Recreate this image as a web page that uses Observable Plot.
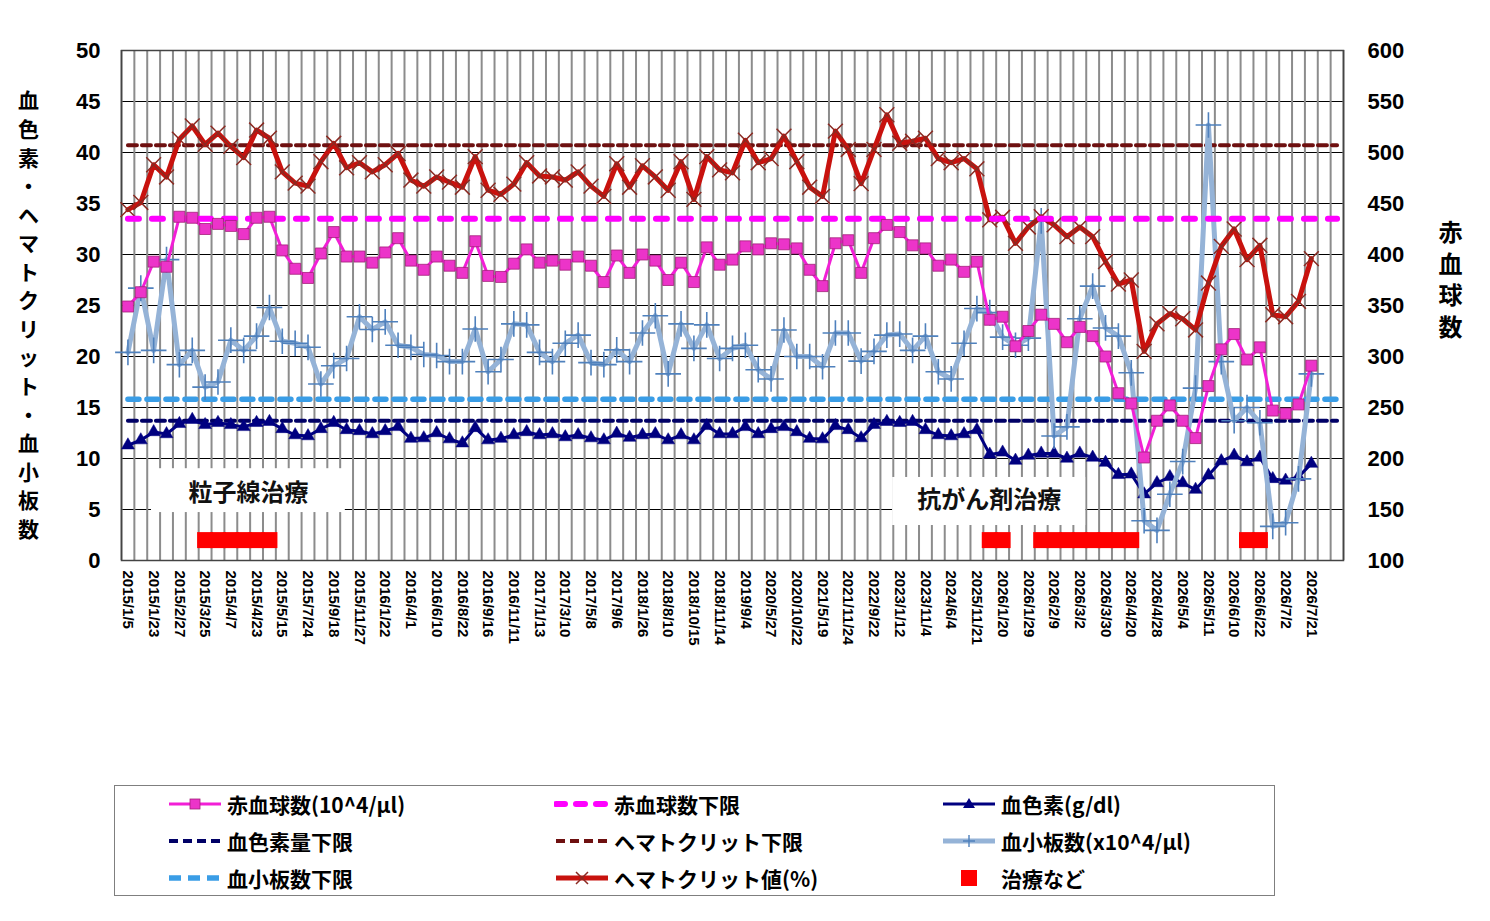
<!DOCTYPE html>
<html><head><meta charset="utf-8">
<script src="https://cdn.jsdelivr.net/npm/d3@7"></script>
<script src="https://cdn.jsdelivr.net/npm/@observablehq/plot@0.6"></script>
<style>
body{margin:0;background:#fff;width:1490px;height:921px;position:relative;overflow:hidden;}
#chart{position:absolute;left:0;top:0;}
#legend{position:absolute;left:114px;top:785px;width:1161px;height:111px;border:1.5px solid #7f7f7f;box-sizing:border-box;background:#fff;}
.item{position:absolute;display:flex;align-items:center;height:30px;font-family:"Noto Sans CJK JP","Noto Sans",sans-serif;font-weight:bold;font-size:21px;color:#000;white-space:nowrap;}
.item svg{margin-right:4px;}
</style></head><body>
<div id="chart"></div><div id="legend"></div>
<script>
// ---- categories (x tick labels shown every second category) ----
const xLabels = ["2015/1/5","2015/1/23","2015/2/27","2015/3/25","2015/4/7","2015/4/23","2015/5/15","2015/7/24","2015/9/18","2015/11/27","2016/1/22","2016/4/1","2016/6/10","2016/8/22","2016/9/16","2016/11/11","2017/1/13","2017/3/10","2017/5/8","2017/9/6","2018/1/26","2018/8/10","2018/10/15","2018/11/14","2019/9/4","2020/5/27","2020/10/22","2021/5/19","2021/11/24","2022/9/22","2023/1/12","2023/11/4","2024/6/4","2025/11/21","2026/1/20","2026/1/29","2026/2/9","2026/3/2","2026/3/30","2026/4/20","2026/4/28","2026/5/4","2026/5/11","2026/6/10","2026/6/22","2026/7/2","2026/7/21"];
const labelEvery = 2;
const nCategories = 95;

// ---- series (left axis unless noted) ----
const hct = [34.4,35.1,38.8,37.6,41.3,42.6,40.8,41.9,40.6,39.5,42.2,41.4,38.1,37.0,36.7,39.1,40.9,38.5,39.0,38.1,38.8,39.9,37.3,36.7,37.6,37.1,36.6,39.6,36.3,35.9,36.9,39.0,37.7,37.6,37.3,38.1,36.7,35.7,38.9,36.6,38.7,37.6,36.3,39.1,35.4,39.6,38.3,38.0,41.2,39.0,39.4,41.6,39.1,36.6,35.7,42.1,40.3,36.95,40.3,43.7,40.9,41.1,41.4,39.4,39.0,39.4,38.4,33.4,33.65,31.1,32.7,33.7,32.9,31.75,32.7,31.75,29.3,27.1,27.5,20.5,23.2,24.2,23.7,22.6,27.2,30.8,32.5,29.5,30.9,24.1,23.9,25.4,29.6];
// red blood cell count, right axis (10^4/μl)
const rbc = [349,363,393,388,437,436,425,430,428,420,436,437,404,386,377,401,422,398,398,392,402,416,394,385,398,389,382,413,379,378,391,405,392,394,390,398,389,373,399,382,400,394,375,392,373,407,390,395,408,405,411,410,406,385,369,411,414,382,416,429,422,409,406,389,395,383,393,336,339,310,325,341,332,314,329,320,300,264,254,201,237,252,237,220,271,307,322,297,309,247,244,253,291];
const plt = [20.4,26.7,20.6,29.5,19.2,20.6,17.0,17.5,21.6,20.6,22.0,24.8,21.5,21.3,20.9,17.3,19.1,19.8,23.9,22.65,23.4,21.1,20.9,20.2,20.1,19.5,19.5,22.7,18.5,19.7,23.2,23.1,20.4,19.5,21.3,22.1,19.4,19.2,20.65,19.5,22.3,24.0,18.3,23.2,20.8,23.1,19.8,20.8,21.1,18.7,17.8,22.6,20.0,20.0,19.0,22.3,22.3,19.55,20.5,22.1,22.2,20.6,22.0,18.5,17.8,21.3,24.7,24.3,21.9,21.1,21.8,33.3,12.2,13.1,23.7,26.9,22.8,22.0,18.4,3.9,2.95,6.5,9.7,16.9,42.7,19.5,13.7,15.0,13.5,3.35,3.7,8.0,18.3];
const hb = [11.3,11.8,12.6,12.4,13.4,13.8,13.3,13.5,13.3,13.1,13.5,13.6,12.9,12.3,12.2,12.9,13.5,12.8,12.7,12.4,12.7,13.1,11.95,12.0,12.5,11.9,11.5,13.0,11.8,11.95,12.3,12.6,12.3,12.4,12.1,12.3,12.0,11.8,12.45,12.05,12.3,12.4,11.8,12.3,11.8,13.2,12.4,12.4,13.1,12.4,12.9,13.1,12.6,11.95,11.9,13.2,12.8,12.0,13.3,13.6,13.5,13.6,12.8,12.3,12.2,12.4,12.8,10.4,10.6,9.8,10.3,10.5,10.5,10.0,10.5,10.1,9.6,8.4,8.45,6.5,7.6,8.2,7.6,6.95,8.35,9.75,10.3,9.65,10.1,8.0,7.85,8.2,9.5];
// treatments: category indices, plotted at a fixed level
const treatmentIdx = [6,7,8,9,10,11,67,68,71,72,73,74,75,76,77,78,87,88];
const treatmentLevel = 2;
// lower limits
const rbcLow = 435, hbLow = 13.7, hctLow = 40.7, pltLow = 15.8;

const leftTicks = d3.range(0, 51, 5);
const rightTicks = d3.range(100, 601, 50);
const toLeft = v => (v - 100) / 10;     // right axis -> left axis units

const annotations = [
  {text: "粒子線治療", x: 9.88, y: 6.57, x1: 2.33, x2: 17.4, y1: 4.7, y2: 9.0},
  {text: "抗がん剤治療", x: 67.46, y: 5.88, x1: 59.95, x2: 74.96, y1: 3.43, y2: 8.14}
];

const C = {
  rbc: "#f21fd6", rbcFill: "#ec34c9", rbcEdge: "#a3207a",
  hb: "#000080", hct: "#c8120e", hctMark: "#8a2a22",
  plt: "#95b3d7", pltMark: "#4f81bd",
  rbcLow: "#ff00ff", hbLow: "#000066", hctLow: "#6e1010", pltLow: "#3a9de6",
  tx: "#ff0000"
};

const pts = arr => arr.map((v, i) => ({x: i + 0.5, v}));
const flat = v => d3.range(nCategories).map(i => ({x: i + 0.5, v}));
const cjk = "Noto Sans CJK JP, Noto Sans, sans-serif";
const latin = "Liberation Sans, Arial, sans-serif";

const chart = Plot.plot({
  width: 1490, height: 700,
  marginLeft: 121, marginRight: 147, marginTop: 50, marginBottom: 140,
  x: {type: "linear", domain: [0, nCategories]},
  y: {domain: [0, 50]},
  style: {fontFamily: latin, background: "#fff", overflow: "visible"},
  marks: [
    Plot.ruleY(leftTicks, {stroke: "#000", strokeWidth: 1.2}),
    Plot.ruleX(d3.range(nCategories + 1), {stroke: "#8c8c8c", strokeWidth: 2}),
    Plot.rect(annotations, {x1: "x1", x2: "x2", y1: "y1", y2: "y2", fill: "#fff"}),
    Plot.text(annotations, {x: "x", y: "y", text: "text", fontSize: 24, fontWeight: "bold", fontFamily: cjk, fill: "#111"}),
    Plot.frame({stroke: "#444", strokeWidth: 1.5}),
    // lower limit lines (left axis)
    Plot.line(flat(hbLow), {x: "x", y: "v", stroke: C.hbLow, strokeWidth: 4, strokeDasharray: "9,5"}),
    Plot.line(flat(hctLow), {x: "x", y: "v", stroke: C.hctLow, strokeWidth: 4, strokeDasharray: "9,5"}),
    Plot.line(flat(pltLow), {x: "x", y: "v", stroke: C.pltLow, strokeWidth: 5.5, strokeDasharray: "11,8"}),
    // hemoglobin
    Plot.line(pts(hb), {x: "x", y: "v", stroke: C.hb, strokeWidth: 3}),
    Plot.dot(pts(hb), {x: "x", y: "v", symbol: "triangle", r: 4.8, fill: C.hb, stroke: C.hb, strokeWidth: 0.5}),
    // platelets
    Plot.line(pts(plt), {x: "x", y: "v", stroke: C.plt, strokeWidth: 5}),
    Plot.dot(pts(plt), {x: "x", y: "v", symbol: "plus", r: 8.3, stroke: C.pltMark, strokeWidth: 1.6, fill: "none"}),
    // hematocrit
    Plot.line(pts(hct), {x: "x", y: "v", stroke: C.hct, strokeWidth: 5}),
    Plot.dot(pts(hct), {x: "x", y: "v", symbol: "times", r: 6.8, stroke: C.hctMark, strokeWidth: 1.5, fill: "none"}),
    // treatments
    Plot.dot(treatmentIdx, {x: d => d + 0.5, y: () => treatmentLevel, symbol: "square", r: 9.03, fill: C.tx}),
    // red blood cells (right axis)
    Plot.line(flat(rbcLow), {x: "x", y: d => toLeft(d.v), stroke: C.rbcLow, strokeWidth: 6, strokeDasharray: "11,13", strokeLinecap: "round"}),
    Plot.line(pts(rbc), {x: "x", y: d => toLeft(d.v), stroke: C.rbc, strokeWidth: 3}),
    Plot.dot(pts(rbc), {x: "x", y: d => toLeft(d.v), symbol: "square", r: 6.2, fill: C.rbcFill, stroke: C.rbcEdge, strokeWidth: 0.8}),
    // axes
    Plot.axisY(leftTicks, {anchor: "left", tickSize: 0, tickPadding: 21, fontSize: 22, fontWeight: "bold", label: null}),
    Plot.axisY(rightTicks.map(toLeft), {anchor: "right", tickSize: 0, tickPadding: 24, fontSize: 22, fontWeight: "bold", label: null, tickFormat: d => String(d * 10 + 100)}),
    Plot.axisX(xLabels.map((_, k) => k * labelEvery + 0.5), {anchor: "bottom", tickSize: 0, tickPadding: 10, tickRotate: 90, fontSize: 15, fontWeight: "bold", label: null, tickFormat: d => xLabels[(d - 0.5) / labelEvery]}),
    // axis titles (vertical, stacked characters)
    Plot.text(["血色素・ヘマトクリット・血小板数"], {frameAnchor: "left", textAnchor: "middle", dx: -93, dy: 8, text: d => d.split("").join("\n"), lineHeight: 1.36, fontSize: 21, fontWeight: "bold", fontFamily: cjk, fill: "#000"}),
    Plot.text(["赤血球数"], {frameAnchor: "right", textAnchor: "middle", dx: 107, dy: -27, text: d => d.split("").join("\n"), lineHeight: 1.32, fontSize: 24, fontWeight: "bold", fontFamily: cjk, fill: "#000"})
  ]
});
document.getElementById("chart").appendChild(chart);

// ---- legend ----
const legendItems = [
  {label: "赤血球数(10^4/μl)", kind: "line", color: C.rbc, w: 3, marker: "square"},
  {label: "赤血球数下限", kind: "dash", color: C.rbcLow, w: 6, dash: "9,11", cap: "round"},
  {label: "血色素(g/dl)", kind: "line", color: C.hb, w: 3, marker: "triangle"},
  {label: "血色素量下限", kind: "dash", color: C.hbLow, w: 4, dash: "9,5"},
  {label: "ヘマトクリット下限", kind: "dash", color: C.hctLow, w: 4, dash: "9,5"},
  {label: "血小板数(x10^4/μl)", kind: "line", color: C.plt, w: 5, marker: "plus"},
  {label: "血小板数下限", kind: "dash", color: C.pltLow, w: 5.5, dash: "12,7"},
  {label: "ヘマトクリット値(%)", kind: "line", color: C.hct, w: 5, marker: "times"},
  {label: "治療など", kind: "box", color: C.tx}
];
const colX = [52, 439, 826], rowY = [3, 40, 77];
const ns = "http://www.w3.org/2000/svg";
const legend = document.getElementById("legend");
legendItems.forEach((it, k) => {
  const div = document.createElement("div");
  div.className = "item";
  div.style.left = colX[k % 3] + "px";
  div.style.top = rowY[Math.floor(k / 3)] + "px";
  const s = document.createElementNS(ns, "svg");
  s.setAttribute("width", 56); s.setAttribute("height", 24);
  const add = (tag, attrs) => { const e = document.createElementNS(ns, tag); for (const a in attrs) e.setAttribute(a, attrs[a]); s.appendChild(e); };
  if (it.kind === "box") {
    add("rect", {x: 20, y: 4, width: 16, height: 16, fill: it.color});
  } else {
    add("line", {x1: 2, x2: 54, y1: 12, y2: 12, stroke: it.color, "stroke-width": it.w, "stroke-dasharray": it.dash || "none", "stroke-linecap": it.cap || "butt"});
    if (it.marker === "square") add("rect", {x: 23, y: 7, width: 10, height: 10, fill: C.rbcFill, stroke: C.rbcEdge, "stroke-width": 0.8});
    if (it.marker === "triangle") add("path", {d: "M28,6 L34,16 L22,16 Z", fill: C.hb});
    if (it.marker === "plus") add("path", {d: "M22,12 H34 M28,6 V18", stroke: C.pltMark, "stroke-width": 1.4, fill: "none"});
    if (it.marker === "times") add("path", {d: "M22,6 L34,18 M34,6 L22,18", stroke: C.hctMark, "stroke-width": 1.5, fill: "none"});
  }
  div.appendChild(s);
  const t = document.createElement("span");
  t.textContent = it.label;
  div.appendChild(t);
  legend.appendChild(div);
});
</script></body></html>
